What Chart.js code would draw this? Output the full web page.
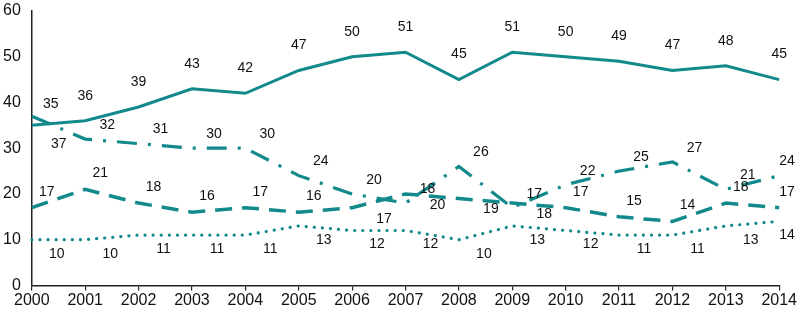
<!DOCTYPE html>
<html>
<head>
<meta charset="utf-8">
<script src="https://cdn.jsdelivr.net/npm/chart.js@4/dist/chart.umd.min.js"></script>
<style>
html,body{margin:0;padding:0;background:#fff;}
#wrap{width:798px;height:310px;position:relative;}
</style>
</head>
<body>
<div id="wrap"><canvas id="c" width="798" height="310"></canvas></div>
<script>
const years = ['2000','2001','2002','2003','2004','2005','2006','2007','2008','2009','2010','2011','2012','2013','2014'];
const solidSeries   = [35,36,39,43,42,47,50,51,45,51,50,49,47,48,45];
const dashDotSeries = [37,32,31,30,30,24,20,18,26,17,22,25,27,21,24];
const dashedSeries  = [17,21,18,16,17,16,17,20,19,18,17,15,14,18,17];
const dottedSeries  = [10,10,11,11,11,13,12,12,10,13,12,11,11,13,14];
const yTicks = [0,10,20,30,40,50,60];

// years where the dashed-series label sits under its line
const dashedLabelsBelow = ['2006','2007','2008','2009'];

const teal = '#12898b';

const labelPlugin = {
  id: 'pointLabels',
  afterDatasetsDraw(chart) {
    const ctx = chart.ctx;
    ctx.save();
    ctx.font = '14px "Liberation Sans", Arial, sans-serif';
    ctx.fillStyle = '#111';
    ctx.textAlign = 'center';
    ctx.textBaseline = 'middle';
    chart.data.datasets.forEach((ds, di) => {
      const meta = chart.getDatasetMeta(di);
      const lo = ds.labelOffset;
      meta.data.forEach((pt, i) => {
        let dx = lo.dx, dy = lo.dy;
        if (i === 0 && lo.first) { dx = lo.first.dx; dy = lo.first.dy; }
        if (lo.below && lo.below.includes(years[i])) { dx = lo.belowOff.dx; dy = lo.belowOff.dy; }
        let x = pt.x + dx;
        x = Math.min(x, 787);
        ctx.fillText(String(ds.data[i]), x, pt.y + dy);
      });
    });
    ctx.restore();
  }
};

new Chart(document.getElementById('c'), {
  type: 'line',
  data: {
    labels: years,
    datasets: [
      { data: solidSeries, borderColor: teal, borderWidth: 3, pointRadius: 0, tension: 0,
        labelOffset: {dx: 0, dy: -25, first: {dx: 19, dy: -21}} },
      { data: dashDotSeries, borderColor: teal, borderWidth: 3.2, pointRadius: 0, tension: 0,
        borderDash: [20, 11, 3, 11],
        labelOffset: {dx: 22, dy: -14, first: {dx: 27, dy: 28}} },
      { data: dashedSeries, borderColor: teal, borderWidth: 3.5, pointRadius: 0, tension: 0,
        borderDash: [17, 10],
        labelOffset: {dx: 15, dy: -16, below: dashedLabelsBelow, belowOff: {dx: 32, dy: 11}} },
      { data: dottedSeries, borderColor: teal, borderWidth: 3.2, pointRadius: 0, tension: 0,
        borderDash: [0.1, 8], borderCapStyle: 'round',
        labelOffset: {dx: 25, dy: 14} }
    ]
  },
  options: {
    responsive: false,
    animation: false,
    devicePixelRatio: 1,
    layout: { padding: { left: 0, top: 0, right: 4, bottom: 0 } },
    plugins: { legend: { display: false }, tooltip: { enabled: false } },
    scales: {
      x: {
        offset: false,
        border: { display: true, color: '#222', width: 1.5 },
        grid: { drawOnChartArea: false, drawTicks: true, tickLength: 5, color: '#222', lineWidth: 1.2 },
        ticks: { color: '#111', font: { family: '"Liberation Sans", Arial, sans-serif', size: 16, lineHeight: 1.1 }, padding: 1, maxRotation: 0, autoSkip: false }
      },
      y: {
        min: 0, max: 60,
        afterBuildTicks(axis) { axis.ticks = yTicks.map(v => ({ value: v })); },
        border: { display: true, color: '#222', width: 1.5 },
        grid: { display: false },
        ticks: { color: '#111', font: { family: '"Liberation Sans", Arial, sans-serif', size: 16, lineHeight: 1 }, padding: 3 }
      }
    }
  },
  plugins: [labelPlugin]
});
</script>
</body>
</html>
